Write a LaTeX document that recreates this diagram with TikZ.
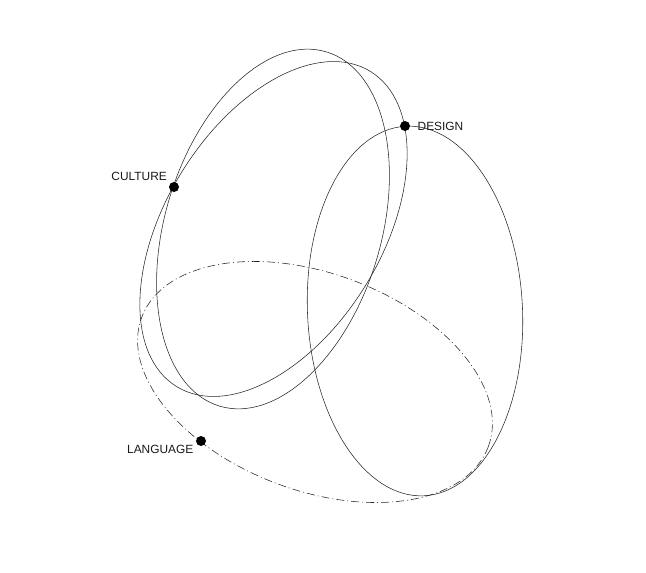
\documentclass[tikz,border=0pt]{standalone}
\usepackage{fontspec}
\setmainfont{Liberation Sans}
\begin{document}
\begin{tikzpicture}[x=1pt,y=-1pt,
  ring/.style={draw=black!85, line width=0.55pt},
  dashring/.style={ring, dash pattern=on 8pt off 3pt on 1pt off 3pt},
  dot/.style={circle, fill=black, inner sep=0pt, minimum size=10pt},
  lbl/.style={inner sep=0pt, font=\fontsize{11.9}{14}\selectfont, text=black!90}]
\useasboundingbox (0,0) rectangle (646,573);
% four copies of one ellipse (semi-axes 185 x 108), rotated
\draw[ring, shift={(273,229)}, rotate=73.2] (0,0) ellipse [x radius=185, y radius=108];
\draw[ring, shift={(273.5,229)}, rotate=58.4] (0,0) ellipse [x radius=185, y radius=108];
\draw[ring, shift={(415,311)}, rotate=92.8] (0,0) ellipse [x radius=185, y radius=107.5];
\draw[dashring, shift={(315,382)}, rotate=-20.5] (0,0) ellipse [x radius=185, y radius=108.5];
% points
\node[dot] (culture) at (174,187) {};
\node[dot] (design) at (405,126) {};
\node[dot] (language) at (201,441) {};
\node[lbl, anchor=east] (tculture) at (167,176) {CULTURE};
\node[lbl, anchor=west] (tdesign) at (417.5,126.5) {DESIGN};
\node[lbl, anchor=east] (tlanguage) at (193.5,449.5) {LANGUAGE};
\end{tikzpicture}
\end{document}
